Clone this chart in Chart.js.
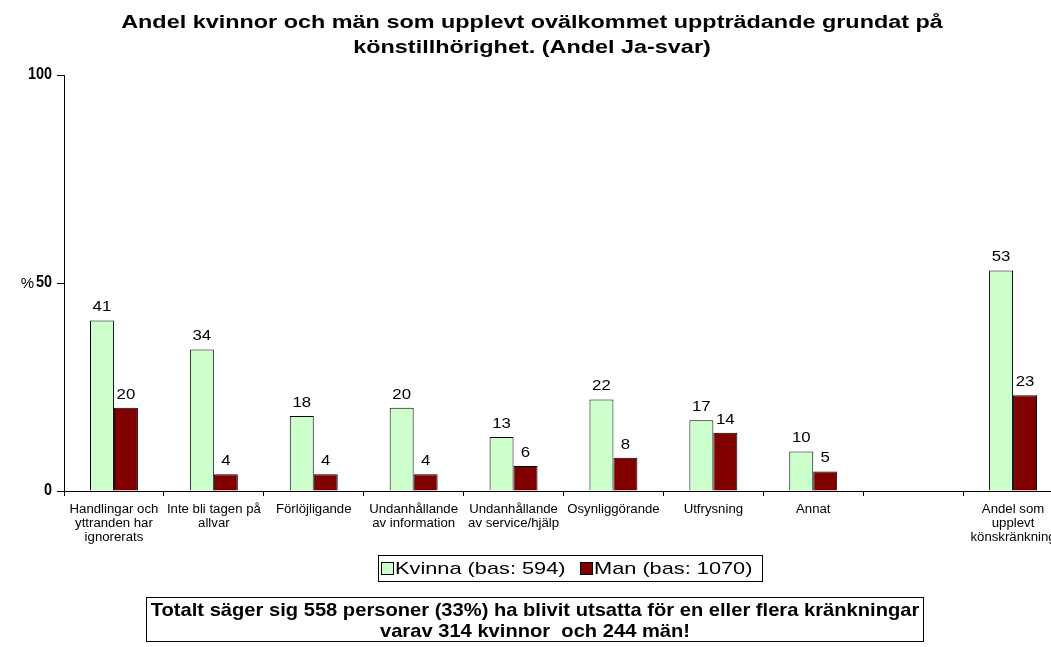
<!DOCTYPE html>
<html>
<head>
<meta charset="utf-8">
<script src="https://cdn.jsdelivr.net/npm/chart.js@4/dist/chart.umd.min.js"></script>
<style>
  html, body { margin: 0; padding: 0; background: #fff; overflow: hidden; width: 1051px; height: 647px; }
  #wrap { position: absolute; left: 0; top: 0; width: 1075px; height: 647px; }
</style>
</head>
<body>
<div id="wrap"><canvas id="chart"></canvas></div>
<script>
// Kategorier och värden (andel ja-svar, %)
const CATEGORIES = [
  ["Handlingar och", "yttranden har", "ignorerats"],
  ["Inte bli tagen på", "allvar"],
  ["Förlöjligande"],
  ["Undanhållande", "av information"],
  ["Undanhållande", "av service/hjälp"],
  ["Osynliggörande"],
  ["Utfrysning"],
  ["Annat"],
  [""],
  ["Andel som", "upplevt", "könskränkning"]
];
const KVINNA = [41, 34, 18, 20, 13, 22, 17, 9.5, null, 53];
const MAN    = [20, 4, 4, 4, 6, 8, 14, 4.7, null, 23];
const Y_TICKS = [0, 50, 100];

const TITLE = ["Andel kvinnor och män som upplevt ovälkommet uppträdande grundat på", "könstillhörighet. (Andel Ja-svar)"];
const LEGEND = ["Kvinna (bas: 594)", "Man (bas: 1070)"];
const NOTE = ["Totalt säger sig 558 personer (33%) ha blivit utsatta för en eller flera kränkningar", "varav 314 kvinnor  och 244 män!"];
const GREEN = "#ccffcc";
const RED = "#800000";
const FONT = "Arial, 'Liberation Sans', sans-serif";

// texten i originalet är utdragen på bredden
function sText(ctx, text, x, y, sx) {
  ctx.save();
  ctx.translate(x, y);
  ctx.scale(sx, 1);
  ctx.fillText(text, 0, 0);
  ctx.restore();
}

const extras = {
  id: "extras",
  afterDatasetsDraw(chart) {
    const ctx = chart.ctx;
    ctx.save();
    ctx.fillStyle = "#000";
    ctx.font = "14px " + FONT;
    ctx.textAlign = "center";
    ctx.textBaseline = "bottom";
    chart.data.datasets.forEach((ds, i) => {
      chart.getDatasetMeta(i).data.forEach((bar, j) => {
        const v = ds.data[j];
        if (v == null) return;
        sText(ctx, String(Math.round(v)), bar.x, bar.y - 6, 1.2);
      });
    });
    ctx.restore();
  },
  afterDraw(chart) {
    const ctx = chart.ctx;
    const { x, y } = chart.scales;
    ctx.save();
    ctx.fillStyle = "#000";
    ctx.textBaseline = "middle";

    // titel
    ctx.font = "bold 18px " + FONT;
    ctx.textAlign = "center";
    sText(ctx, TITLE[0], 532, 23, 1.3);
    sText(ctx, TITLE[1], 532, 48, 1.3);

    // y-axelns etiketter
    ctx.font = "bold 16px " + FONT;
    ctx.textAlign = "right";
    Y_TICKS.forEach(v => sText(ctx, String(v), 52, y.getPixelForValue(v), 0.9));
    ctx.font = "15px " + FONT;
    sText(ctx, "%", 34, y.getPixelForValue(50) + 1, 1.0);

    // x-axelns etiketter
    ctx.font = "12px " + FONT;
    ctx.textAlign = "center";
    CATEGORIES.forEach((lines, i) => {
      const px = x.getPixelForValue(i);
      lines.forEach((t, k) => sText(ctx, t, px, 510 + k * 14, 1.1));
    });

    // legend med ram
    ctx.strokeStyle = "#000";
    ctx.lineWidth = 1;
    ctx.strokeRect(378.5, 555.5, 384, 26);
    ctx.fillStyle = GREEN;
    ctx.fillRect(381.5, 562.5, 12, 12);
    ctx.strokeRect(381.5, 562.5, 12, 12);
    ctx.fillStyle = RED;
    ctx.fillRect(580.5, 562.5, 12, 12);
    ctx.strokeRect(580.5, 562.5, 12, 12);
    ctx.fillStyle = "#000";
    ctx.font = "17px " + FONT;
    ctx.textAlign = "left";
    sText(ctx, LEGEND[0], 395, 569, 1.28);
    sText(ctx, LEGEND[1], 594, 569, 1.28);

    // textruta under diagrammet
    ctx.strokeRect(146.5, 597.5, 777, 44);
    ctx.font = "bold 19px " + FONT;
    ctx.textAlign = "center";
    sText(ctx, NOTE[0], 535, 611, 1.06);
    sText(ctx, NOTE[1], 535, 632, 1.06);
    ctx.restore();
  }
};

new Chart(document.getElementById("chart"), {
  type: "bar",
  data: {
    labels: CATEGORIES,
    datasets: [
      { label: LEGEND[0], data: KVINNA, backgroundColor: GREEN, borderColor: "#000", borderWidth: 1, categoryPercentage: 0.48, barPercentage: 1 },
      { label: LEGEND[1], data: MAN, backgroundColor: RED, borderColor: "#000", borderWidth: 1, categoryPercentage: 0.48, barPercentage: 1 }
    ]
  },
  options: {
    responsive: true, maintainAspectRatio: false, animation: false,
    layout: { padding: { top: 75, right: 12, bottom: 96, left: 0 } },
    plugins: { legend: { display: false }, tooltip: { enabled: false } },
    scales: {
      x: {
        grid: { drawOnChartArea: false, color: "#000", tickLength: 5, offset: true },
        border: { color: "#000" },
        ticks: { color: "rgba(0,0,0,0)", font: { size: 11 }, maxRotation: 0, autoSkip: false },
        afterFit: s => { s.height = 60; }
      },
      y: {
        min: 0, max: 100,
        afterBuildTicks: s => { s.ticks = Y_TICKS.map(v => ({ value: v })); },
        grid: { drawOnChartArea: false, color: "#000", tickLength: 7 },
        border: { color: "#000" },
        ticks: { color: "rgba(0,0,0,0)", font: { size: 15 } },
        afterFit: s => { s.width = 64; }
      }
    }
  },
  plugins: [extras]
});
</script>
</body>
</html>
